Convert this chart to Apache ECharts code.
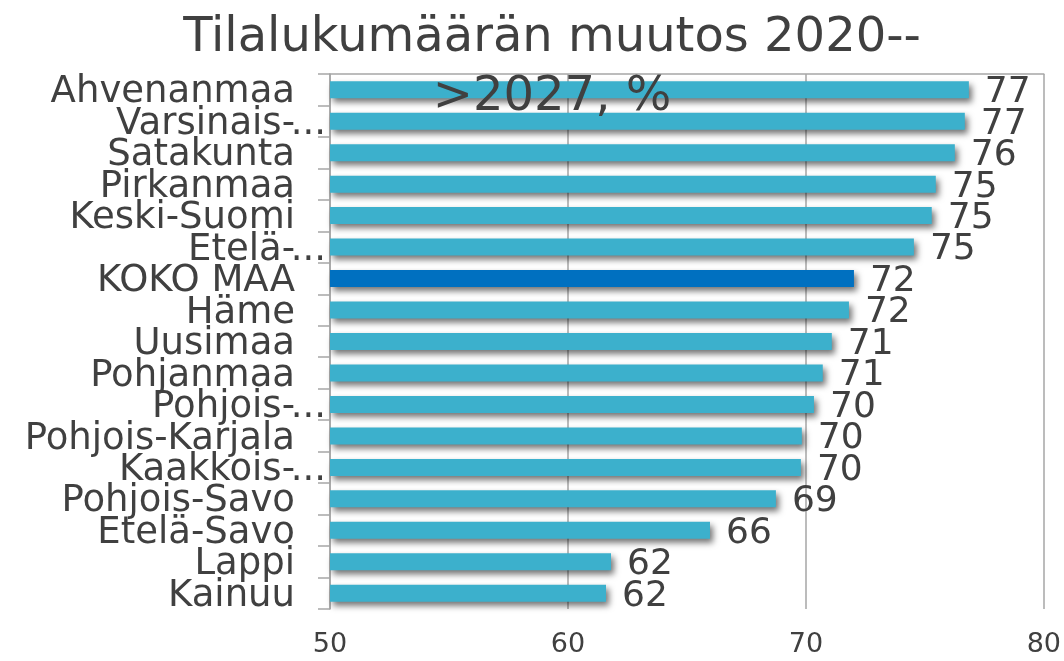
<!DOCTYPE html>
<html>
<head>
<meta charset="utf-8">
<script src="https://cdn.jsdelivr.net/npm/echarts@6/dist/echarts.min.js"></script>
<style>
  html, body { margin: 0; padding: 0; background: #fff; }
  #chart { width: 1064px; height: 661px; }
</style>
</head>
<body>
<div id="chart"></div>
<script>
'use strict';

// regions, top to bottom
var regions = [
    'Ahvenanmaa', 'Varsinais-...', 'Satakunta', 'Pirkanmaa', 'Keski-Suomi',
    'Etelä-...', 'KOKO MAA', 'Häme', 'Uusimaa', 'Pohjanmaa', 'Pohjois-...',
    'Pohjois-Karjala', 'Kaakkois-...', 'Pohjois-Savo', 'Etelä-Savo', 'Lappi', 'Kainuu'
];
var values = [
    76.85, 76.68, 76.26, 75.46, 75.29,
    74.54, 72.02, 71.81, 71.09, 70.71, 70.34,
    69.83, 69.79, 68.74, 65.97, 61.81, 61.60
];
var highlight = 'KOKO MAA';
var xTicks = [50, 60, 70, 80];

var barColor = '#3cb0cc';
var hiColor = '#0070c0';
var textColor = '#404040';
var lineColor = '#a6a6a6';

var myChart = echarts.init(document.getElementById('chart'));

// truncated names: the dots hang past the normal right edge, like in the original
function regionLabel(name) {
    if (name.slice(-3) === '...') {
        return '{n|' + name.slice(0, -3) + '}{e|...}';
    }
    return '{n|' + name + '}{p|}';
}

var option = {
    animation: false,
    title: {
        text: 'Tilalukumäärän muutos 2020--\n>2027, %',
        left: 547,
        textAlign: 'center',
        top: 4,
        textStyle: {
            fontFamily: 'DejaVu Sans',
            fontWeight: 'normal',
            fontSize: 48,
            lineHeight: 59,
            color: textColor
        }
    },
    grid: {
        left: 330,
        right: 20,
        top: 74,
        bottom: 52
    },
    xAxis: [{
        type: 'value',
        min: xTicks[0],
        max: xTicks[xTicks.length - 1],
        interval: 10,
        axisLine: { show: false },
        axisTick: { show: false },
        axisLabel: {
            margin: 22,
            fontFamily: 'DejaVu Sans',
            fontSize: 27,
            color: textColor
        },
        splitLine: {
            show: true,
            lineStyle: { color: lineColor, width: 1.5 }
        }
    }, {
        // top border line
        type: 'value',
        position: 'top',
        min: xTicks[0],
        max: xTicks[xTicks.length - 1],
        interval: 10,
        axisLine: { show: true, lineStyle: { color: lineColor, width: 1.5 } },
        axisTick: { show: false },
        axisLabel: { show: false },
        splitLine: { show: false }
    }],
    yAxis: {
        type: 'category',
        inverse: true,
        data: regions,
        axisLine: { show: true, lineStyle: { color: lineColor, width: 1.5 } },
        axisTick: {
            show: true,
            length: 12,
            lineStyle: { color: lineColor, width: 1.5 }
        },
        axisLabel: {
            interval: 0,
            margin: 4,
            padding: [6, 0, 0, 0],
            formatter: regionLabel,
            rich: {
                n: {
                    fontFamily: 'DejaVu Sans',
                    fontSize: 37,
                    color: textColor
                },
                e: {
                    fontFamily: 'DejaVu Sans',
                    fontSize: 37,
                    width: 31,
                    color: textColor
                },
                p: {
                    fontSize: 37,
                    width: 31
                }
            }
        }
    },
    series: [{
        type: 'bar',
        xAxisIndex: 0,
        barWidth: 17,
        data: values.map(function (v, i) {
            return {
                value: v,
                itemStyle: { color: regions[i] === highlight ? hiColor : barColor }
            };
        }),
        itemStyle: {
            shadowColor: 'rgba(0, 0, 0, 0.55)',
            shadowBlur: 6,
            shadowOffsetX: 3,
            shadowOffsetY: 4
        },
        label: {
            show: true,
            position: 'right',
            distance: 16,
            offset: [0, 3],
            fontFamily: 'DejaVu Sans',
            fontSize: 36,
            color: textColor,
            formatter: function (p) {
                return Math.round(p.value);
            }
        }
    }]
};

myChart.setOption(option);
</script>
</body>
</html>
